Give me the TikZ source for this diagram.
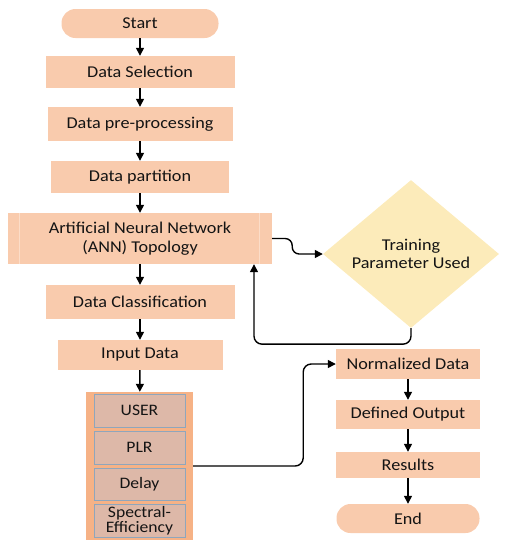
\documentclass[tikz,border=0pt]{standalone}
\usepackage{fontspec}
\setmainfont[FakeStretch=1.1]{Carlito}
\usetikzlibrary{shapes.geometric,arrows.meta}
\definecolor{peach}{HTML}{F9CBAD}
\definecolor{diafill}{HTML}{FCEBBA}
\definecolor{contfill}{HTML}{F6B286}
\definecolor{innerfill}{HTML}{DDB8A8}
\definecolor{innerdraw}{HTML}{8FA6BC}
\definecolor{annline}{HTML}{FCDDC8}
\definecolor{txt}{HTML}{141414}
\tikzset{
  box/.style={rectangle, fill=peach, inner sep=0pt, align=center, text=txt, font=\fontsize{16.5}{19}\selectfont},
  term/.style={box, rounded corners=14pt},
  inbox/.style={rectangle, fill=innerfill, draw=innerdraw, line width=0.8pt, inner sep=0pt, minimum width=91pt, minimum height=33pt, align=center, text=txt, font=\fontsize{16}{15}\selectfont},
  arr/.style={-{Triangle[length=8pt,width=8pt]}, line width=1.4pt, black},
}
\begin{document}
\begin{tikzpicture}[x=1pt,y=-1pt]
\useasboundingbox (0,0) rectangle (508,550);
\node[term, minimum width=157pt, minimum height=29pt] (start) at (140,23.5) {Start};
\node[box, minimum width=189pt, minimum height=32pt] (sel) at (140,72) {Data Selection};
\node[box, minimum width=185pt, minimum height=34pt] (pre) at (140,124) {Data pre-processing};
\node[box, minimum width=178pt, minimum height=32pt] (part) at (140,177) {Data partition};
\node[box, minimum width=264pt, minimum height=51pt] (ann) at (140,238.5) {Artificial Neural Network\\(ANN) Topology};
\draw[annline, line width=0.8pt] ([xshift=12pt]ann.north west) -- ([xshift=12pt]ann.south west);
\draw[annline, line width=0.8pt] ([xshift=-13pt]ann.north east) -- ([xshift=-13pt]ann.south east);
\node[diamond, fill=diafill, inner sep=0pt, minimum width=176pt, minimum height=86pt, align=center, text=txt, font=\fontsize{16.5}{18}\selectfont] (dia) at (411,254) {Training\\Parameter Used};
\node[box, minimum width=189pt, minimum height=34pt] (cls) at (140,302) {Data Classification};
\node[box, minimum width=165pt, minimum height=30pt] (inp) at (140,355) {Input Data};
\node[rectangle, fill=contfill, minimum width=107pt, minimum height=148pt, inner sep=0pt] (cont) at (139.5,466) {};
\node[inbox] (user) at (139.5,410.5) {USER};
\node[inbox] (plr) at (139.5,447.5) {PLR};
\node[inbox, minimum height=32pt] (delay) at (139.5,484) {Delay};
\node[inbox] (spec) at (139.5,520.5) {Spectral-\\Efficiency};
\node[box, minimum width=144pt, minimum height=30pt] (norm) at (408,364) {Normalized Data};
\node[box, minimum width=144pt, minimum height=29pt] (def) at (408,414.5) {Defined Output};
\node[box, minimum width=144pt, minimum height=26pt] (res) at (408,465) {Results};
\node[term, minimum width=143pt, minimum height=29pt] (end) at (408,518.5) {End};
\draw[arr] (start) -- (sel);
\draw[arr] (sel) -- (pre);
\draw[arr] (pre) -- (part);
\draw[arr] (part) -- (ann);
\draw[arr] (ann) -- (cls);
\draw[arr] (cls) -- (inp);
\draw[arr] (inp) -- (cont);
\draw[arr, rounded corners=7pt] (ann.east) -- ++(20,0) |- (dia.west);
\draw[arr, rounded corners=8pt] (dia.south) -- ++(0,16) -| ([xshift=114pt]ann.south);
\draw[arr, rounded corners=8pt] (cont.east) -- ++(110,0) |- (norm.west);
\draw[arr] (norm) -- (def);
\draw[arr] (def) -- (res);
\draw[arr] (res) -- (end);
\end{tikzpicture}
\end{document}
